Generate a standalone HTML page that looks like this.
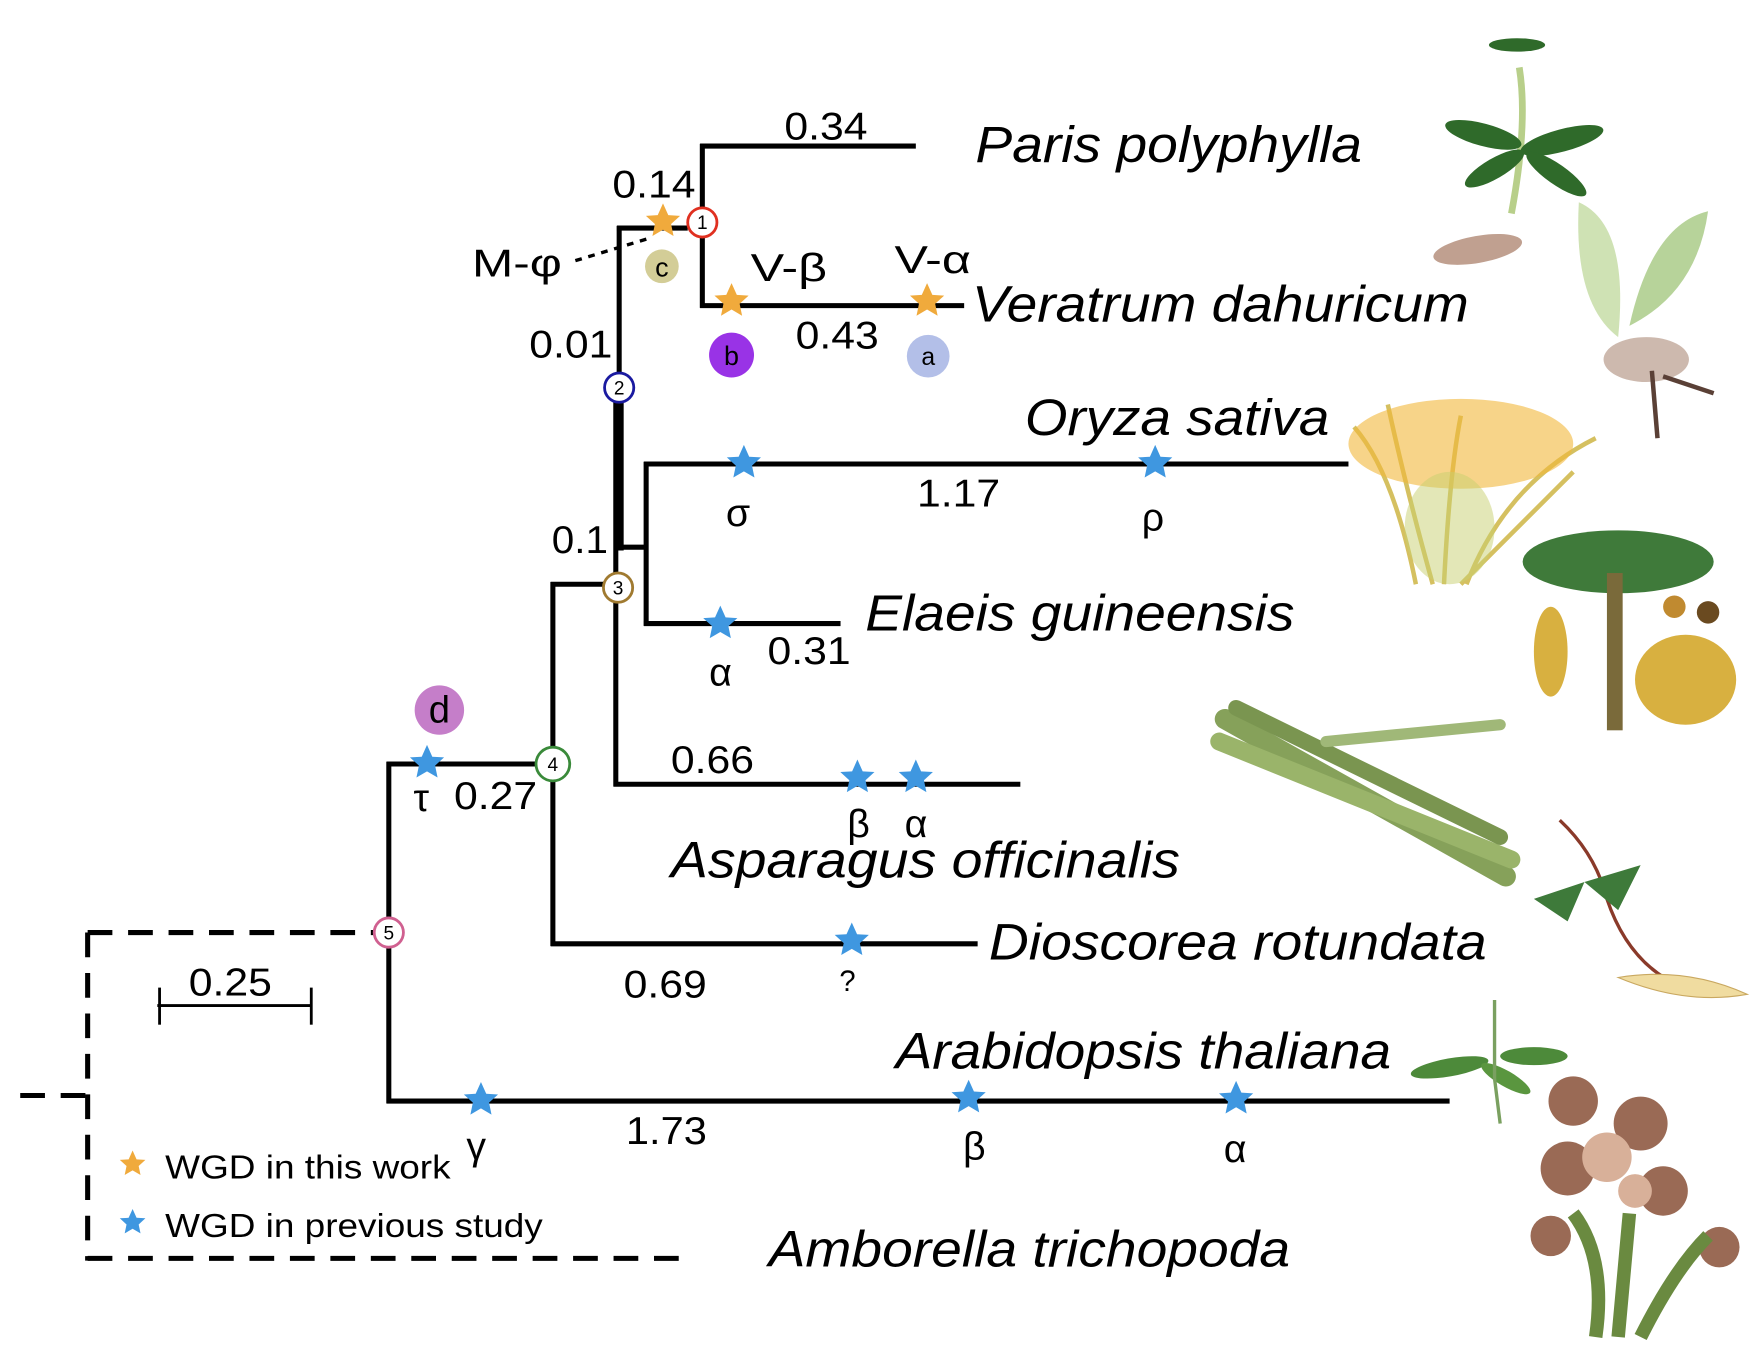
<!DOCTYPE html>
<html><head><meta charset="utf-8"><style>
html,body{margin:0;padding:0;background:#fff}
svg{display:block}
text{font-family:"Liberation Sans",Arial,sans-serif;fill:#000}
</style></head><body>
<svg width="1762" height="1364" viewBox="0 0 1568 1214" preserveAspectRatio="none" xmlns="http://www.w3.org/2000/svg">
<defs>
<polygon id="st" points="0,-16 4.7,-5.5 15.2,-4.9 7.2,2.4 9.4,13 0,7.5 -9.4,13 -7.2,2.4 -15.2,-4.9 -4.7,-5.5"/>
</defs>
<g stroke="#000" stroke-width="4.5" fill="none" stroke-linecap="butt">
<g stroke-dasharray="22,14">
<line x1="18" y1="975" x2="78" y2="975"/>
<line x1="78" y1="830" x2="78" y2="1122"/>
<line x1="78" y1="830" x2="334" y2="830"/>
<line x1="78" y1="1120" x2="612" y2="1120"/>
</g>
<line x1="346" y1="678" x2="346" y2="982"/>
<line x1="344" y1="680" x2="480" y2="680"/>
<line x1="344" y1="980" x2="1290" y2="980"/>
<line x1="492" y1="518" x2="492" y2="842"/>
<line x1="490" y1="520" x2="538" y2="520"/>
<line x1="490" y1="840" x2="870" y2="840"/>
<line x1="548" y1="358" x2="548" y2="700"/>
<line x1="551" y1="358" x2="551" y2="490" stroke-width="8"/>
<line x1="546" y1="698" x2="908" y2="698"/>
<line x1="548" y1="487" x2="577" y2="487"/>
<line x1="575" y1="411" x2="575" y2="557"/>
<line x1="573" y1="413" x2="1200" y2="413"/>
<line x1="573" y1="555" x2="748" y2="555"/>
<line x1="551" y1="201" x2="551" y2="332"/>
<line x1="549" y1="203" x2="612" y2="203"/>
<line x1="625" y1="128" x2="625" y2="185"/>
<line x1="625" y1="211" x2="625" y2="274"/>
<line x1="623" y1="130" x2="815" y2="130"/>
<line x1="623" y1="272" x2="858" y2="272"/>
<line x1="140" y1="895" x2="277" y2="895" stroke-width="2.5"/>
<line x1="142" y1="879" x2="142" y2="912" stroke-width="2.5"/>
<line x1="277" y1="879" x2="277" y2="912" stroke-width="2.5"/>
<line x1="512" y1="232" x2="578" y2="212" stroke-width="3" stroke-dasharray="6,6"/>
</g>
<g fill="#fff" stroke-width="2.5" font-size="17" text-anchor="middle">
<circle cx="625" cy="198" r="13" stroke="#e03020"/><text x="625" y="204">1</text>
<circle cx="551" cy="345" r="13" stroke="#1a1aa0"/><text x="551" y="351">2</text>
<circle cx="550" cy="523" r="13" stroke="#a07a30"/><text x="550" y="529">3</text>
<circle cx="492" cy="680" r="15" stroke="#3a8a3a"/><text x="492" y="686">4</text>
<circle cx="346" cy="830" r="13" stroke="#d06090"/><text x="346" y="836">5</text>
</g>
<circle cx="589" cy="237" r="15" fill="#d3cd97"/><text x="589" y="246" font-size="24" text-anchor="middle">c</text>
<circle cx="651" cy="316" r="20" fill="#9933e6"/><text x="651" y="325" font-size="24" text-anchor="middle">b</text>
<circle cx="826" cy="317" r="19" fill="#b3bfe8"/><text x="826" y="325" font-size="22" text-anchor="middle">a</text>
<circle cx="391" cy="632" r="22" fill="#c57ec9"/><text x="391" y="643" font-size="34" text-anchor="middle">d</text>
<g fill="#f0aa3c">
<use href="#st" x="590" y="197"/><use href="#st" x="651" y="268"/><use href="#st" x="825" y="268"/>
<use href="#st" x="118" y="1036" transform="translate(118,1036) scale(0.75) translate(-118,-1036)"/>
</g>
<g fill="#3f97e0">
<use href="#st" x="662" y="412"/><use href="#st" x="1028" y="412"/><use href="#st" x="641" y="555"/>
<use href="#st" x="763" y="692"/><use href="#st" x="815" y="692"/><use href="#st" x="758" y="837"/>
<use href="#st" x="380" y="679"/><use href="#st" x="428" y="979"/><use href="#st" x="862" y="977"/><use href="#st" x="1100" y="978"/>
<use href="#st" x="118" y="1088" transform="translate(118,1088) scale(0.75) translate(-118,-1088)"/>
</g>
<g font-size="35">
<text x="698" y="124" textLength="74" lengthAdjust="spacingAndGlyphs">0.34</text>
<text x="545" y="176" textLength="74" lengthAdjust="spacingAndGlyphs">0.14</text>
<text x="420" y="246" textLength="80" lengthAdjust="spacingAndGlyphs">M-φ</text>
<text x="668" y="250" textLength="68" lengthAdjust="spacingAndGlyphs">V-β</text>
<text x="796" y="243" textLength="68" lengthAdjust="spacingAndGlyphs">V-α</text>
<text x="708" y="310" textLength="74" lengthAdjust="spacingAndGlyphs">0.43</text>
<text x="471" y="318" textLength="74" lengthAdjust="spacingAndGlyphs">0.01</text>
<text x="816" y="451" textLength="74" lengthAdjust="spacingAndGlyphs">1.17</text>
<text x="646" y="468">σ</text>
<text x="1016" y="472">ρ</text>
<text x="491" y="492" textLength="50" lengthAdjust="spacingAndGlyphs">0.1</text>
<text x="683" y="591" textLength="74" lengthAdjust="spacingAndGlyphs">0.31</text>
<text x="631" y="610">α</text>
<text x="597" y="688" textLength="74" lengthAdjust="spacingAndGlyphs">0.66</text>
<text x="754" y="745">β</text>
<text x="805" y="745">α</text>
<text x="404" y="720" textLength="74" lengthAdjust="spacingAndGlyphs">0.27</text>
<text x="368" y="722">τ</text>
<text x="555" y="888" textLength="74" lengthAdjust="spacingAndGlyphs">0.69</text>
<text x="747" y="882" font-size="26">?</text>
<text x="168" y="886" textLength="74" lengthAdjust="spacingAndGlyphs">0.25</text>
<text x="415" y="1032">γ</text>
<text x="557" y="1018" textLength="72" lengthAdjust="spacingAndGlyphs">1.73</text>
<text x="857" y="1032">β</text>
<text x="1089" y="1034">α</text>
</g>
<g font-size="30">
<text x="147" y="1049" textLength="254" lengthAdjust="spacingAndGlyphs">WGD in this work</text>
<text x="147" y="1101" textLength="336" lengthAdjust="spacingAndGlyphs">WGD in previous study</text>
</g>
<g font-size="45" font-style="italic">
<text x="868" y="144" textLength="344" lengthAdjust="spacingAndGlyphs">Paris polyphylla</text>
<text x="865" y="286" textLength="442" lengthAdjust="spacingAndGlyphs">Veratrum dahuricum</text>
<text x="912" y="387" textLength="271" lengthAdjust="spacingAndGlyphs">Oryza sativa</text>
<text x="770" y="561" textLength="382" lengthAdjust="spacingAndGlyphs">Elaeis guineensis</text>
<text x="597" y="781" textLength="453" lengthAdjust="spacingAndGlyphs">Asparagus officinalis</text>
<text x="880" y="854" textLength="443" lengthAdjust="spacingAndGlyphs">Dioscorea rotundata</text>
<text x="797" y="951" textLength="441" lengthAdjust="spacingAndGlyphs">Arabidopsis thaliana</text>
<text x="684" y="1127" textLength="464" lengthAdjust="spacingAndGlyphs">Amborella trichopoda</text>
</g>
<g>
<path d="M1352,60 Q1360,110 1345,190" stroke="#b8cf8a" stroke-width="6" fill="none"/>
<g fill="#2f6a2a">
<ellipse cx="1320" cy="120" rx="35" ry="10" transform="rotate(15 1320 120)"/>
<ellipse cx="1390" cy="125" rx="38" ry="10" transform="rotate(-15 1390 125)"/>
<ellipse cx="1330" cy="150" rx="30" ry="9" transform="rotate(-30 1330 150)"/>
<ellipse cx="1385" cy="155" rx="32" ry="9" transform="rotate(35 1385 155)"/>
<ellipse cx="1350" cy="40" rx="25" ry="6"/>
</g>
<ellipse cx="1315" cy="222" rx="40" ry="12" fill="#c0a090" transform="rotate(-10 1315 222)"/>
<path d="M1405,180 Q1450,200 1440,300 Q1400,270 1405,180Z" fill="#cfe2b4"/>
<path d="M1520,188 Q1470,200 1450,290 Q1510,260 1520,188Z" fill="#b7d39a"/>
<ellipse cx="1465" cy="320" rx="38" ry="20" fill="#cdb9ae"/>
<path d="M1470,330 L1475,390 M1480,335 L1525,350" stroke="#5a4036" stroke-width="4"/>
<path d="M1260,520 Q1240,420 1205,380 M1285,520 Q1290,420 1300,370 M1305,520 Q1340,430 1420,390 M1275,520 Q1250,430 1235,360 M1300,520 Q1380,440 1400,420" stroke="#d5c060" stroke-width="4" fill="none"/>
<ellipse cx="1300" cy="395" rx="100" ry="40" fill="#f2b83a" opacity="0.6"/>
<ellipse cx="1290" cy="470" rx="40" ry="50" fill="#c8d070" opacity="0.5"/>
<ellipse cx="1440" cy="500" rx="85" ry="28" fill="#3f7a3a"/>
<rect x="1430" y="510" width="14" height="140" fill="#7a6a3a"/>
<ellipse cx="1500" cy="605" rx="45" ry="40" fill="#d8b040"/>
<ellipse cx="1380" cy="580" rx="15" ry="40" fill="#d8b040"/>
<circle cx="1490" cy="540" r="10" fill="#c08a30"/><circle cx="1520" cy="545" r="10" fill="#6a4a20"/>
<g stroke-linecap="round">
<line x1="1090" y1="640" x2="1340" y2="780" stroke="#86a15a" stroke-width="18"/>
<line x1="1085" y1="660" x2="1345" y2="765" stroke="#9ab46a" stroke-width="16"/>
<line x1="1100" y1="630" x2="1335" y2="745" stroke="#7a9550" stroke-width="14"/>
<line x1="1180" y1="660" x2="1335" y2="645" stroke="#a0b878" stroke-width="10"/>
</g>
<path d="M1388,730 Q1420,760 1430,800 Q1450,860 1500,880" stroke="#8a3a2a" stroke-width="3" fill="none"/>
<path d="M1365,800 L1410,785 L1395,820Z M1410,785 L1460,770 L1440,810Z" fill="#3e7a3a"/>
<path d="M1440,870 Q1500,860 1555,885 Q1500,895 1440,870Z" fill="#f0dca0" stroke="#c9a860"/>
<ellipse cx="1290" cy="950" rx="35" ry="8" fill="#4d8a3a" transform="rotate(-10 1290 950)"/>
<ellipse cx="1365" cy="940" rx="30" ry="8" fill="#4d8a3a"/>
<ellipse cx="1340" cy="960" rx="25" ry="7" fill="#5a963f" transform="rotate(30 1340 960)"/>
<path d="M1330,960 L1330,890 M1335,1000 L1330,960" stroke="#7aa060" stroke-width="3"/>
<g fill="#9a6a55">
<circle cx="1400" cy="980" r="22"/><circle cx="1460" cy="1000" r="24"/><circle cx="1395" cy="1040" r="24"/>
<circle cx="1480" cy="1060" r="22"/><circle cx="1380" cy="1100" r="18"/><circle cx="1530" cy="1110" r="18"/>
</g>
<g fill="#d8b099"><circle cx="1430" cy="1030" r="22"/><circle cx="1455" cy="1060" r="15"/></g>
<path d="M1420,1190 Q1430,1120 1400,1080 M1440,1190 L1450,1080 M1460,1190 Q1490,1130 1520,1100" stroke="#6a8a40" stroke-width="12" fill="none"/>
</g>
</svg>
</body></html>
